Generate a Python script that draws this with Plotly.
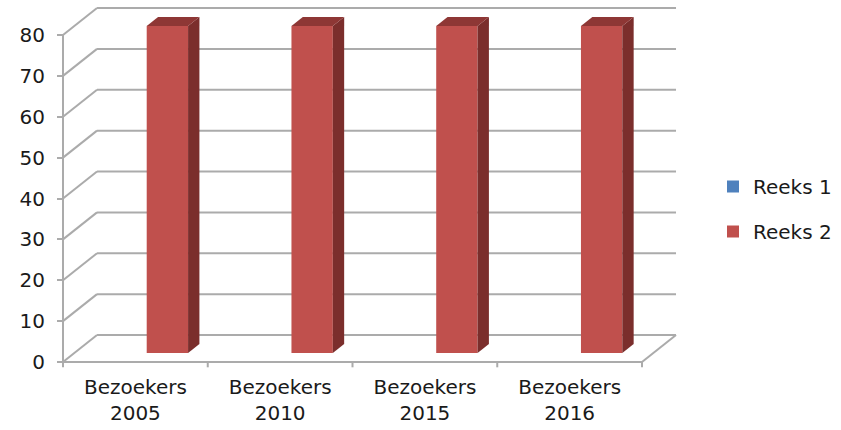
import numpy as np
import plotly.graph_objects as go

# chart data
categories = ["Bezoekers<br>2005", "Bezoekers<br>2010", "Bezoekers<br>2015", "Bezoekers<br>2016"]
reeks1 = [0, 0, 0, 0]
reeks2 = [80, 80, 80, 80]
y_ticks = [0, 10, 20, 30, 40, 50, 60, 70, 80]

# fake 3d look: depth of the box in axis units
dx = 0.235   # depth along x (category units)
dy = 6.6     # depth along y (value units)
bw = 0.2857  # bar width (gap 150%)

n = len(categories)
xc = np.arange(n) + 0.5

fig = go.Figure()

grid_col = "#ababab"
shapes = []
# back wall gridlines + left wall diagonals
for v in y_ticks:
    shapes.append(dict(type="line", x0=dx, x1=n + dx, y0=v + dy, y1=v + dy,
                       line=dict(color=grid_col, width=2), layer="below"))
    shapes.append(dict(type="line", x0=0, x1=dx, y0=v, y1=v + dy,
                       line=dict(color=grid_col, width=2), layer="below"))
# front axis lines
shapes.append(dict(type="line", x0=0, x1=0, y0=0, y1=y_ticks[-1],
                   line=dict(color=grid_col, width=2), layer="below"))
shapes.append(dict(type="line", x0=0, x1=n, y0=0, y1=0,
                   line=dict(color=grid_col, width=2), layer="below"))
shapes.append(dict(type="line", x0=n, x1=n + dx, y0=0, y1=dy,
                   line=dict(color=grid_col, width=2), layer="below"))
# category boundary ticks
for i in range(n + 1):
    shapes.append(dict(type="line", x0=i, x1=i, y0=0, y1=-1.3,
                       line=dict(color=grid_col, width=2), layer="below"))

series = [("Reeks 1", reeks1, "#4f81bd", "#3a6190", "#44709f", -bw),
          ("Reeks 2", reeks2, "#c0504d", "#7b2e2c", "#8e3735", 0.0)]

for name, vals, front, side, top, off in series:
    fig.add_trace(go.Bar(
        x=xc, y=vals, base=dy / 3, width=bw, offset=off + dx / 3,
        marker=dict(color=front, line=dict(width=0)),
        name=name, legendgroup=name,
    ))
    for xi, v in zip(xc, vals):
        if v <= 0:
            continue
        xl = xi + off + dx / 3
        xr = xl + bw
        b = dy / 3
        # side face
        fig.add_trace(go.Scatter(
            x=[xr, xr + dx / 3, xr + dx / 3, xr, xr],
            y=[b, b + dy / 3, b + v + dy / 3, b + v, b],
            fill="toself", fillcolor=side, mode="lines", line=dict(width=0),
            showlegend=False, hoverinfo="skip"))
        # top face
        fig.add_trace(go.Scatter(
            x=[xl, xr, xr + dx / 3, xl + dx / 3, xl],
            y=[b + v, b + v, b + v + dy / 3, b + v + dy / 3, b + v],
            fill="toself", fillcolor=top, mode="lines", line=dict(width=0),
            showlegend=False, hoverinfo="skip"))

W, H = 841, 430
ml, mr, mt, mb = 50, 150, 4, 57
pw = W - ml - mr
ph = H - mt - mb
px_x = 144.75
px_y = 4.0875
x0_px, y0_px = 63, 362

fig.update_layout(
    width=W, height=H,
    margin=dict(l=ml, r=mr, t=mt, b=mb, autoexpand=False),
    plot_bgcolor="white", paper_bgcolor="white",
    barmode="overlay",
    shapes=shapes,
    font=dict(family="DejaVu Sans", size=20, color="#1a1a1a"),
    showlegend=True,
    legend=dict(x=(713 - ml) / pw, y=(H - mb - 209) / ph, xanchor="left", yanchor="middle",
                traceorder="grouped", tracegroupgap=16,
                font=dict(family="DejaVu Sans", size=20)),
    xaxis=dict(range=[-(x0_px - ml) / px_x, (ml + pw - x0_px) / px_x],
               tickvals=list(xc), ticktext=categories, ticks="",
               showgrid=False, zeroline=False, showline=False, automargin=False),
    yaxis=dict(range=[-(mt + ph - y0_px) / px_y, (y0_px - mt) / px_y],
               tickvals=y_ticks, ticks="outside", ticklen=6, tickwidth=2, tickcolor=grid_col,
               anchor="free", position=(x0_px - ml) / pw, ticklabelstandoff=8,
               showgrid=False, zeroline=False, showline=False, automargin=False),
)

# page has a default body margin, drop it so the figure sits at 0,0
fig.write_html("out.html", config={"displayModeBar": False},
               post_script="document.body.style.margin='0';")
